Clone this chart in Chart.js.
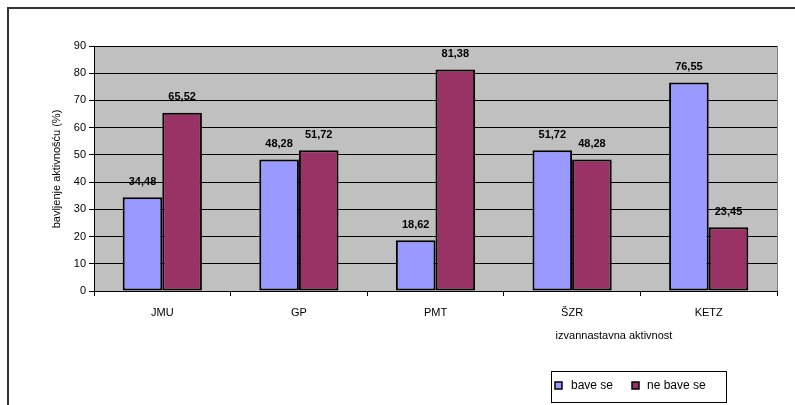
<!DOCTYPE html>
<html>
<head>
<meta charset="utf-8">
<script src="https://cdn.jsdelivr.net/npm/chart.js@4/dist/chart.umd.min.js"></script>
<style>
  html, body { margin: 0; padding: 0; background: #fff; }
  #wrap { width: 795px; height: 405px; }
</style>
</head>
<body>
<div id="wrap"><canvas id="chart" width="795" height="405"></canvas></div>
<script>
const categories = ['JMU', 'GP', 'PMT', 'ŠZR', 'KETZ'];
const baveSe = [34.48, 48.28, 18.62, 51.72, 76.55];
const neBaveSe = [65.52, 51.72, 81.38, 48.28, 23.45];
const seriesNames = ['bave se', 'ne bave se'];
const seriesColors = ['#9999FF', '#993366'];
const yTicks = [0, 10, 20, 30, 40, 50, 60, 70, 80, 90];

const FONT = 'Liberation Sans, Arial, sans-serif';

const decorations = {
  id: 'decorations',
  beforeDraw(chart) {
    const { ctx, chartArea: a } = chart;
    ctx.save();
    ctx.fillStyle = '#C0C0C0';
    ctx.fillRect(a.left, a.top, a.right - a.left, a.bottom - a.top);
    ctx.strokeStyle = '#808080';
    ctx.lineWidth = 1;
    ctx.strokeRect(a.left + 0.5, a.top + 0.5, a.right - a.left, a.bottom - a.top);
    ctx.restore();
  },
  afterDraw(chart) {
    const { ctx } = chart;
    ctx.save();
    // outer frame (left and top only visible)
    ctx.strokeStyle = '#333';
    ctx.lineWidth = 2;
    ctx.beginPath();
    ctx.moveTo(8, 405); ctx.lineTo(8, 8); ctx.lineTo(795, 8);
    ctx.stroke();

    // value labels
    ctx.fillStyle = '#000';
    ctx.font = 'bold 11px ' + FONT;
    ctx.textAlign = 'center';
    ctx.textBaseline = 'bottom';
    chart.data.datasets.forEach((ds, i) => {
      chart.getDatasetMeta(i).data.forEach((bar, j) => {
        ctx.fillText(ds.data[j].toFixed(2).replace('.', ','), bar.x, bar.y - 10);
      });
    });

    // axis titles
    ctx.font = '11px ' + FONT;
    ctx.textBaseline = 'middle';
    ctx.fillText('izvannastavna aktivnost', 614, 336);
    ctx.translate(57, 169);
    ctx.rotate(-Math.PI / 2);
    ctx.fillText('bavljenje aktivnošću (%)', 0, 0);
    ctx.setTransform(1, 0, 0, 1, 0, 0);

    // legend
    ctx.strokeStyle = '#000';
    ctx.lineWidth = 1;
    ctx.strokeRect(551.5, 371.5, 175, 31);
    ctx.font = '12px ' + FONT;
    ctx.textAlign = 'left';
    const items = [{ x: 555, tx: 571 }, { x: 632, tx: 647 }];
    items.forEach((it, i) => {
      ctx.fillStyle = seriesColors[i];
      ctx.fillRect(it.x, 382, 7, 7);
      ctx.strokeStyle = '#000';
      ctx.lineWidth = 1.5;
      ctx.strokeRect(it.x, 382, 7, 7);
      ctx.fillStyle = '#000';
      ctx.fillText(seriesNames[i], it.tx, 386);
    });
    ctx.restore();
  }
};

new Chart(document.getElementById('chart'), {
  type: 'bar',
  data: {
    labels: categories,
    datasets: [
      { label: seriesNames[0], data: baveSe, backgroundColor: seriesColors[0], borderColor: '#000', borderWidth: 2, borderSkipped: false },
      { label: seriesNames[1], data: neBaveSe, backgroundColor: seriesColors[1], borderColor: '#000', borderWidth: 2, borderSkipped: false }
    ]
  },
  options: {
    responsive: false,
    animation: false,
    devicePixelRatio: 1,
    layout: { padding: { left: 0, top: 46, right: 18, bottom: 0 } },
    datasets: { bar: { categoryPercentage: 0.58, barPercentage: 1 } },
    plugins: { legend: { display: false }, tooltip: { enabled: false } },
    scales: {
      x: {
        afterFit: s => { s.height = 114; },
        grid: { display: true, drawOnChartArea: false, color: '#000', tickLength: 5, offset: true },
        border: { color: '#000', width: 1 },
        ticks: { color: '#000', font: { family: FONT, size: 11 }, padding: 10 }
      },
      y: {
        min: 0, max: 90,
        afterFit: s => { s.width = 94; },
        afterBuildTicks: s => { s.ticks = yTicks.map(v => ({ value: v })); },
        grid: { color: '#000', tickLength: 5 },
        border: { color: '#000', width: 1 },
        ticks: { color: '#000', font: { family: FONT, size: 11 }, padding: 3 }
      }
    }
  },
  plugins: [decorations]
});
</script>
</body>
</html>
